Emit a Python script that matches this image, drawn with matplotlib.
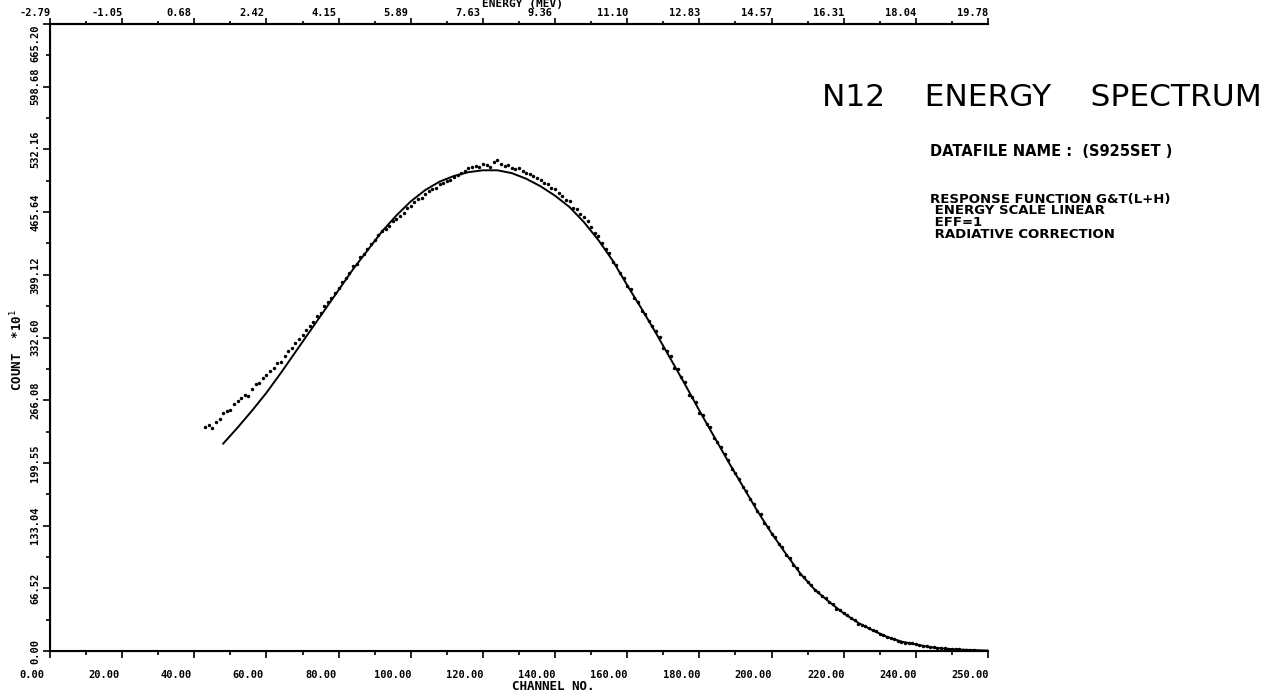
import matplotlib.pyplot as plt
import matplotlib.transforms as mtransforms
import numpy as np

# fitted response curve
fit_channel = [48, 52, 56, 60, 64, 68, 72, 76, 80, 84, 88, 92, 96, 100, 104, 108,
               112, 116, 120, 124, 128, 132, 136, 140, 144, 148, 152, 156, 160, 164,
               168, 172, 176, 180, 184, 188, 192, 196, 200, 204, 208, 212, 216, 220,
               224, 228, 232, 236, 240, 244, 248, 252, 256, 260]
fit_count = [220, 237, 255, 274, 295, 317, 339, 361, 383, 405, 425, 445, 462, 477, 489, 498,
             504, 508, 510, 510, 507, 501, 493, 483, 471, 455, 436, 414, 388, 363,
             337, 310, 283, 255, 228, 201, 175, 149, 125, 103, 82, 65, 52, 40,
             30, 22, 15, 10, 7, 4, 2.5, 1.5, 1, 0.5]

# measured counts, one per channel from channel 43
first_channel = 43
counts = [238, 240, 237, 243, 246,
          252, 255, 256, 262, 265, 268, 272, 271, 278, 283, 284, 290, 293, 297, 300, 306,
          307, 313, 318, 321, 327, 331, 335, 341, 345, 349, 355, 359, 366, 370, 374, 380,
          385, 392, 396, 401, 408, 411, 418, 421, 427, 432, 436, 441, 446, 448, 451, 456,
          458, 462, 465, 470, 472, 476, 480, 481, 485, 488, 490, 491, 495, 496, 499, 500,
          503, 505, 507, 509, 512, 513, 515, 513, 517, 516, 514, 519, 521, 517, 515, 516,
          512, 511, 512, 509, 507, 506, 504, 502, 500, 497, 495, 491, 490, 486, 483, 479,
          477, 470, 469, 464, 460, 456, 450, 443, 440, 433, 426, 422, 413, 409, 401, 396,
          387, 384, 374, 370, 361, 358, 350, 345, 339, 333, 321, 318, 313, 300, 299, 291,
          285, 272, 270, 264, 253, 250, 241, 238, 226, 222, 216, 209, 203, 193, 189, 182,
          174, 170, 161, 156, 148, 145, 136, 132, 124, 121, 113, 110, 102, 99, 91, 88,
          82, 79, 73, 70, 65, 63, 58, 56, 52, 50, 45, 44, 40, 38, 35, 33,
          29, 28, 26, 24, 22, 21, 18, 17, 15, 14, 13, 11, 10, 9, 8, 8,
          7, 6, 5, 5, 4, 4, 3, 3, 3, 2, 2, 2, 2, 1, 1, 1, 1]
channels = first_channel + np.arange(len(counts))

channel_labels = ['0.00', '20.00', '40.00', '60.00', '80.00', '100.00', '120.00',
                  '140.00', '160.00', '180.00', '200.00', '220.00', '240.00', '250.00']
energy_labels = ['-2.79', '-1.05', '0.68', '2.42', '4.15', '5.89', '7.63',
                 '9.36', '11.10', '12.83', '14.57', '16.31', '18.04', '19.78']
count_labels = ['0.00', '66.52', '133.04', '199.55', '266.08', '332.60',
                '399.12', '465.64', '532.16', '598.68', '665.20']

info_lines = ['RESPONSE FUNCTION G&T(L+H)', ' ENERGY SCALE LINEAR', ' EFF=1',
              ' RADIATIVE CORRECTION']

W, H = 1272, 693
fig = plt.figure(figsize=(W / 100, H / 100), dpi=100)
ax = fig.add_axes([50 / W, 42 / H, 938 / W, 627 / H])

ax.plot(fit_channel, fit_count, color='black', lw=1.4)
ax.plot(channels, counts, ls='none', marker='o', ms=2.5, color='black', mec='none')

x_max = 20 * (len(channel_labels) - 1)
y_step = 66.52
ax.set_xlim(0, x_max)
ax.set_ylim(0, y_step * (len(count_labels) - 1))

tick_font = dict(family='DejaVu Sans Mono', weight='bold', size=7.5)

ax.set_xticks(np.arange(0, x_max + 1, 20))
ax.set_xticklabels(channel_labels, **tick_font)
ax.set_xticks(np.arange(10, x_max, 20), minor=True)
ax.set_yticks(np.arange(len(count_labels)) * y_step)
ax.set_yticklabels(count_labels, rotation=90, va='center', **tick_font)
ax.set_yticks((np.arange(len(count_labels) - 1) + 0.5) * y_step, minor=True)
# top label hangs below its tick so it clears the energy labels
ax.get_yticklabels()[-1].set_va('top')

ax.tick_params(which='major', direction='out', length=5, width=1.2)
ax.tick_params(which='minor', direction='out', length=3, width=1.2)
ax.tick_params(axis='x', which='major', pad=9)
ax.tick_params(axis='y', which='major', pad=2)

for side in ['left', 'bottom', 'top']:
    ax.spines[side].set_linewidth(1.5)
ax.spines['right'].set_visible(False)

# energy scale along the top
top = ax.twiny()
top.set_xlim(0, x_max)
top.set_xticks(np.arange(0, x_max + 1, 20))
top.set_xticklabels(energy_labels, **tick_font)
top.set_xticks(np.arange(10, x_max, 20), minor=True)
top.tick_params(which='major', direction='out', length=4, width=1.2, pad=0)
top.tick_params(which='minor', direction='out', length=2.5, width=1.2)
top.spines['right'].set_visible(False)
top.spines['top'].set_linewidth(1.5)

# the plotter prints its scale numbers a little left of each tick
for labels, dx in [(ax.get_xticklabels(), -18), (top.get_xticklabels(), -15)]:
    shift = mtransforms.ScaledTranslation(dx / 100, 0, fig.dpi_scale_trans)
    for lab in labels:
        lab.set_transform(lab.get_transform() + shift)

label_font = dict(family='DejaVu Sans Mono', weight='bold', size=8)
fig.text(522 / W, 1 - 4 / H, 'ENERGY (MEV)', ha='center', va='center', **label_font)
fig.text(553 / W, 1 - 686 / H, 'CHANNEL NO.', ha='center', va='center', size=9,
         family='DejaVu Sans Mono', weight='bold')
fig.text(17 / W, 1 - 350 / H, "COUNT  *10$^{1}$", rotation=90, ha='center', va='center',
         size=9, family='DejaVu Sans Mono', weight='bold')

fig.text(1262 / W, 1 - 98 / H, 'N12    ENERGY    SPECTRUM', ha='right', va='center',
         family='DejaVu Sans', size=22.5)

info_font = dict(family='DejaVu Sans', weight='bold', size=9.5)
fig.text(930 / W, 1 - 152 / H, 'DATAFILE NAME :  (S925SET )', ha='left', va='center',
         size=10.5, family='DejaVu Sans', weight='bold')
for i, line in enumerate(info_lines):
    fig.text(930 / W, 1 - (199 + 12 * i) / H, line, ha='left', va='center', **info_font)

fig.savefig('out.png', dpi=100)
